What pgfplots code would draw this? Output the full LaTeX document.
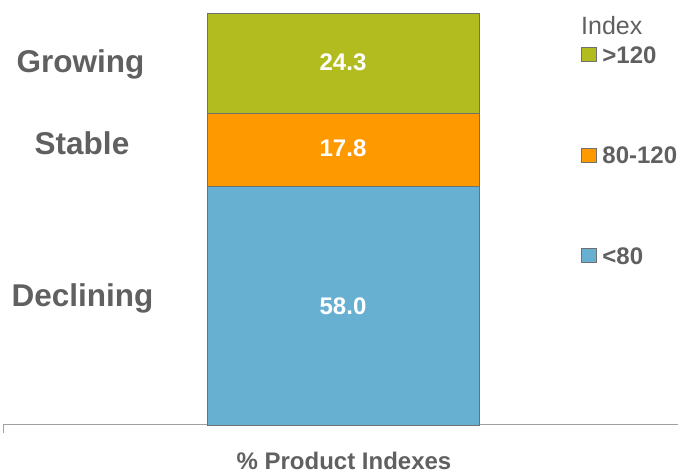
\documentclass[border=0pt]{standalone}
\usepackage{pgfplots}
\pgfplotsset{compat=1.18}
\usepackage{fontspec}
\setmainfont{Liberation Sans}
\definecolor{cgreen}{RGB}{179,188,30}
\definecolor{corange}{RGB}{255,153,0}
\definecolor{cblue}{RGB}{103,176,209}
\definecolor{ctext}{RGB}{96,96,96}
\definecolor{cedge}{RGB}{112,112,112}
\definecolor{caxis}{RGB}{160,160,160}
\pgfplotsset{sqleg/.style={legend image code/.code={\path[draw=none,fill=none] (0pt,-0.05pt) rectangle (21pt,0.05pt);\draw[##1,line width=0.8pt] (0pt,-6.9pt) rectangle (15pt,7.1pt);}}}
\begin{document}
\begin{tikzpicture}[x=1pt,y=1pt]
\useasboundingbox (0,0) rectangle (678,473);
\begin{axis}[
  at={(3pt,48pt)}, anchor=south west,
  scale only axis, width=680pt, height=412pt,
  xmin=0, xmax=680, ymin=0, ymax=100.1,
  axis x line*=bottom, axis y line=none,
  x axis line style={draw=caxis, line width=1pt, -},
  xtick={0}, xticklabels={}, tick align=outside, major tick length=8pt,
  tick style={draw=caxis, line width=1pt},
  ybar stacked, bar width=272pt,
  clip=false,
  reverse legend,
  legend cell align=left,
  legend style={draw=none, fill=none, at={(0.85,0.919)}, anchor=north west,
    inner sep=0pt, outer sep=0pt, row sep=83.4pt,
    font=\fontsize{24}{24}\selectfont\bfseries, text=ctext,
    nodes={inner sep=0pt, text height=17pt, text depth=0pt}},
]
\addplot[fill=cblue, draw=cedge, line width=0.8pt, sqleg] coordinates {(340,58.0)};
\addlegendentry{<80}
\addplot[fill=corange, draw=cedge, line width=0.8pt, sqleg] coordinates {(340,17.8)};
\addlegendentry{80-120}
\addplot[fill=cgreen, draw=cedge, line width=0.8pt, sqleg] coordinates {(340,24.3)};
\addlegendentry{>120}
\end{axis}
\node[text=white, font=\fontsize{24}{24}\selectfont\bfseries] at (343,166.5) {58.0};
\node[text=white, font=\fontsize{24}{24}\selectfont\bfseries] at (343,324.5) {17.8};
\node[text=white, font=\fontsize{24}{24}\selectfont\bfseries] at (343,411) {24.3};
\node[anchor=base, text=ctext, font=\fontsize{31.5}{31.5}\selectfont\bfseries] at (80.5,400) {Growing};
\node[anchor=base, text=ctext, font=\fontsize{31.5}{31.5}\selectfont\bfseries] at (82,318) {Stable};
\node[anchor=base, text=ctext, font=\fontsize{31.5}{31.5}\selectfont\bfseries] at (82.5,166) {Declining};
\node[anchor=base west, inner sep=0pt, text=ctext, font=\fontsize{25}{25}\selectfont] at (581,438) {Index};
\node[anchor=base, inner sep=0pt, text=ctext, font=\fontsize{24}{24}\selectfont\bfseries] at (344,3.8) {\% Product Indexes};
\end{tikzpicture}
\end{document}
